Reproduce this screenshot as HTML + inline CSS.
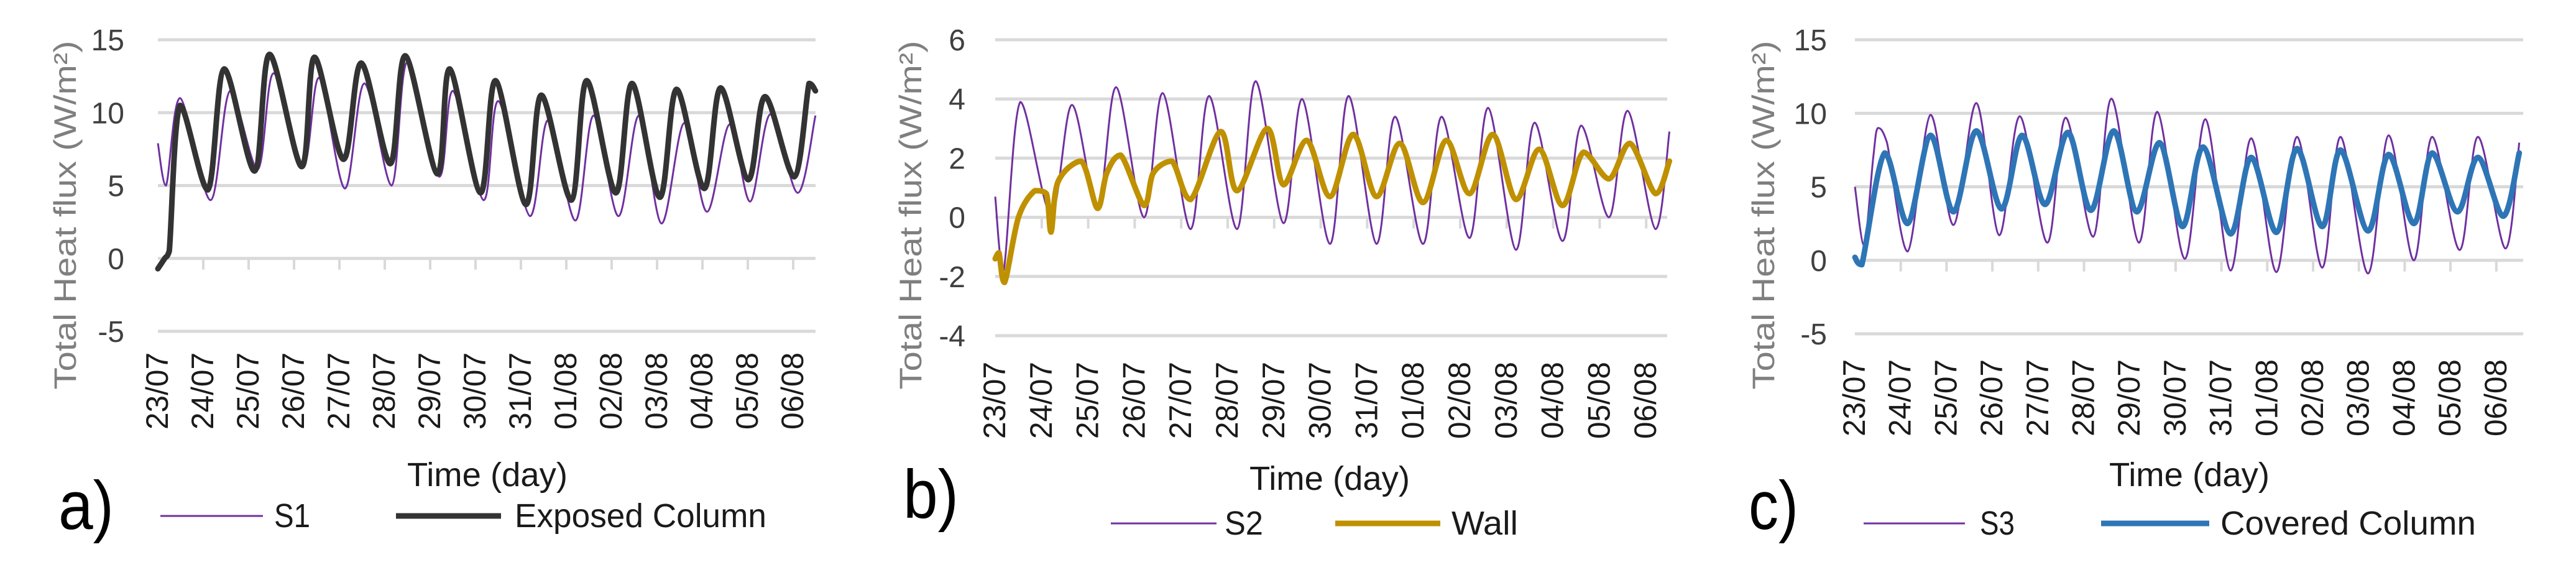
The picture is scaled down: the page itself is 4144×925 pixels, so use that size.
<!DOCTYPE html>
<html><head><meta charset="utf-8">
<style>
html,body{margin:0;padding:0;background:#fff;}
svg{display:block;}
text{font-family:"Liberation Sans",sans-serif;}
</style></head>
<body>
<svg id="fig" width="4144" height="925" viewBox="0 0 4144 925" xmlns="http://www.w3.org/2000/svg"></svg>
<script>
// ---- shared category labels ----
const dayLabels = ["23/07","24/07","25/07","26/07","27/07","28/07","29/07","30/07","31/07","01/08","02/08","03/08","04/08","05/08","06/08"];

// ---- panel a data ----
const aTicks = [15,10,5,0,-5];
const aS1Days = [0,0.18,0.49,1.16,1.59,2.2,2.55,3.2,3.55,4.12,4.55,5.15,5.5,6.2,6.5,7.18,7.5,8.2,8.6,9.2,9.6,10.15,10.6,11.1,11.6,12.1,12.6,13.05,13.5,14.1,14.49];
const aS1Vals = [7.9,5,11,4,11.5,6.1,12.7,6.3,12.4,4.8,12,5,13.5,5.6,11.5,4,10.8,2.9,9.5,2.6,9.8,2.9,9.8,2.4,9.3,3.2,9.2,3.9,9.9,4.5,9.8];
const aColDays = [0,0.15,0.25,0.49,1.1,1.46,2.13,2.46,3.17,3.45,4.09,4.48,5.12,5.45,6.16,6.43,7.11,7.44,8.11,8.45,9.11,9.45,10.09,10.45,11.06,11.43,12.04,12.4,13.01,13.38,14.02,14.35,14.49];
const aColVals = [-0.7,0,0.5,10.5,4.7,13,6,14,6.3,13.8,6.8,13.4,6.5,13.9,5.8,13,4.5,12.2,3.7,11.2,4,12.2,4.5,12,4.2,11.6,4.8,11.7,5.4,11.1,5.6,12,11.5];

// ---- panel b data ----
const bTicks = [6,4,2,0,-2,-4];
const bS2Days = [0,0.18,0.54,1.2,1.65,2.2,2.6,3.2,3.6,4.2,4.6,5.2,5.6,6.2,6.6,7.2,7.6,8.2,8.6,9.2,9.6,10.2,10.6,11.2,11.6,12.2,12.6,13.2,13.6,14.2,14.5];
const bS2Vals = [0.7,-1.8,3.9,0.1,3.8,0.3,4.4,0.0,4.2,-0.4,4.1,-0.4,4.6,-0.2,4.0,-0.9,4.1,-0.9,3.4,-0.9,3.4,-0.7,3.7,-1.1,3.2,-0.8,3.1,0.0,3.6,-0.4,2.9];
const bWallDays = [0,0.08,0.2,0.5,0.85,1.1,1.2,1.35,1.85,2.2,2.4,2.7,3.2,3.4,3.8,4.2,4.85,5.2,5.85,6.2,6.7,7.2,7.7,8.2,8.7,9.2,9.7,10.2,10.7,11.2,11.7,12.2,12.65,13.2,13.65,14.2,14.5];
const bWallVals = [-1.4,-1.2,-2.2,0,0.9,0.8,-0.5,1.2,1.9,0.3,1.5,2.1,0.4,1.5,1.9,0.6,2.9,0.9,3.0,1.1,2.6,0.7,2.8,0.7,2.5,0.5,2.6,0.8,2.8,0.6,2.3,0.4,2.2,1.3,2.5,0.8,1.9];

// ---- panel c data ----
const cTicks = [15,10,5,0,-5];
const cS3Days = [0,0.2,0.4,0.5,0.7,1.15,1.65,2.15,2.65,3.15,3.6,4.2,4.6,5.2,5.6,6.2,6.6,7.2,7.65,8.2,8.65,9.2,9.65,10.2,10.6,11.2,11.65,12.2,12.6,13.2,13.6,14.2,14.5];
const cS3Vals = [5,1,7,9,8,0.6,9.9,2.4,10.7,1.7,9.8,1.2,9.7,1.6,11,1.2,10.1,0.1,9.6,-0.7,8.3,-0.8,8.4,-0.5,8.4,-0.9,8.5,0,8.4,0.7,8.4,0.8,8];
const cCovDays = [0,0.15,0.65,1.15,1.65,2.15,2.65,3.2,3.65,4.15,4.65,5.15,5.65,6.15,6.65,7.15,7.6,8.2,8.65,9.2,9.65,10.2,10.6,11.2,11.65,12.2,12.6,13.15,13.6,14.15,14.5];
const cCovVals = [0.2,-0.3,7.3,2.5,8.5,3.3,8.8,3.5,8.5,3.8,8.7,3.4,8.8,3.3,8,2.3,7.7,1.8,7,1.9,7.6,2.3,7.5,2,7.2,2.5,7.3,3.3,7,3,7.3];

const NS = "http://www.w3.org/2000/svg";
const svg = document.getElementById('fig');
function mk(tag, attrs, parent){
  const e = document.createElementNS(NS, tag);
  for (const k in attrs) e.setAttribute(k, attrs[k]);
  (parent||svg).appendChild(e);
  return e;
}
function smoothPath(pts){
  let d = "M"+pts[0][0].toFixed(1)+","+pts[0][1].toFixed(1);
  for (let i=0;i<pts.length-1;i++){
    const p0=pts[Math.max(0,i-1)], p1=pts[i], p2=pts[i+1], p3=pts[Math.min(pts.length-1,i+2)];
    const t=0.16;
    let c1y=p1[1]+(p2[1]-p0[1])*t, c2y=p2[1]-(p3[1]-p1[1])*t;
    const lo=Math.min(p1[1],p2[1]), hi=Math.max(p1[1],p2[1]);
    c1y=Math.max(lo,Math.min(hi,c1y)); c2y=Math.max(lo,Math.min(hi,c2y));
    const c1x=p1[0]+(p2[0]-p0[0])*t, c2x=p2[0]-(p3[0]-p1[0])*t;
    d+=" C"+c1x.toFixed(1)+","+c1y.toFixed(1)+" "+c2x.toFixed(1)+","+c2y.toFixed(1)+" "+p2[0].toFixed(1)+","+p2[1].toFixed(1);
  }
  return d;
}

function panel(cfg){
  const g = mk('g',{});
  
  
  const yMax=cfg.ticks[0], yMin=cfg.ticks[cfg.ticks.length-1];
  const yS = v => cfg.yTop + (yMax-v)/(yMax-yMin)*(cfg.yBot-cfg.yTop);
  const xS = d => cfg.x0 + d*cfg.dx;
  // gridlines & y tick labels
  cfg.ticks.forEach(t=>{
    const l = mk('line',{x1:cfg.x0,x2:cfg.xEnd,y1:yS(t),y2:yS(t),stroke:'#d9d9d9','stroke-width':5},g);
    
    
    const tx = mk('text',{x:cfg.yLabX,y:yS(t)+17,'text-anchor':'end','font-size':48,fill:'#404040'},g);
    tx.textContent = t;
    
    
  });
  // tick marks on zero line
  for (let i=1;i<dayLabels.length;i++){
    const tm = mk('line',{x1:xS(i),x2:xS(i),y1:yS(0),y2:yS(0)+18,stroke:'#d9d9d9','stroke-width':4},g);
    
    
  }
  // x labels
  dayLabels.forEach((lab,i)=>{
    const x = xS(i)+16, y = cfg.labTop+124;
    const tx = mk('text',{x:x,y:y,'font-size':50,fill:'#1a1a1a',transform:'rotate(-90 '+x+' '+y+')',textLength:124,lengthAdjust:'spacingAndGlyphs'},g);
    tx.textContent = lab;
    
    
  });
  // y axis title
  const ty = mk('text',{x:cfg.titleX,y:cfg.titleY,'font-size':50,fill:'#7f7f7f','text-anchor':'middle',transform:'rotate(-90 '+cfg.titleX+' '+cfg.titleY+')',textLength:561,lengthAdjust:'spacingAndGlyphs'},g);
  ty.textContent = 'Total Heat flux (W/m²)';
  
  
  // x axis title
  const tt = mk('text',{x:cfg.timeX,y:cfg.timeY+17,'font-size':54,fill:'#1a1a1a',textLength:258,lengthAdjust:'spacingAndGlyphs'},g);
  tt.textContent = 'Time (day)';
  
  
  // panel letter
  const pl = mk('text',{x:cfg.letX,y:cfg.letY,'font-size':110,fill:'#000',textLength:cfg.letW,lengthAdjust:'spacingAndGlyphs'},g);
  pl.textContent = cfg.id+')';
  
  
  // series
  const s1 = mk('path',{d:smoothPath(cfg.thinD.map((d,i)=>[xS(d),yS(cfg.thinV[i])])),fill:'none',stroke:'#7030a0','stroke-width':3,'stroke-linejoin':'round'},g);
  
  
  const s2 = mk('path',{d:smoothPath(cfg.thickD.map((d,i)=>[xS(d),yS(cfg.thickV[i])])),fill:'none',stroke:cfg.thickColor,'stroke-width':9,'stroke-linejoin':'round','stroke-linecap':'round'},g);
  
  
  // legend
  const lg = mk('g',{},g);
  
  
  const l1 = mk('line',{x1:cfg.leg[0],x2:cfg.leg[1],y1:cfg.legY,y2:cfg.legY,stroke:'#7030a0','stroke-width':3},lg);
  
  
  const t1 = mk('text',{x:cfg.leg[2],y:cfg.legY+18,'font-size':54,fill:'#1a1a1a',textLength:cfg.leg[3]-cfg.leg[2],lengthAdjust:'spacingAndGlyphs'},lg);
  t1.textContent = cfg.thinName;
  
  
  const l2 = mk('line',{x1:cfg.leg[4],x2:cfg.leg[5],y1:cfg.legY,y2:cfg.legY,stroke:cfg.thickColor,'stroke-width':9},lg);
  
  
  const t2 = mk('text',{x:cfg.leg[6],y:cfg.legY+18,'font-size':54,fill:'#1a1a1a',textLength:cfg.leg[7]-cfg.leg[6],lengthAdjust:'spacingAndGlyphs'},lg);
  t2.textContent = cfg.thickName;
  
  
}

panel({id:'a',ticks:aTicks,yTop:64,yBot:533,x0:254,dx:73,xEnd:1312,yLabX:200,labTop:567,
  titleX:122,titleY:346,timeX:655,timeY:765,letX:94,letY:851,letW:89,
  thinD:aS1Days,thinV:aS1Vals,thickD:aColDays,thickV:aColVals,thickColor:'#333333',thinName:'S1',thickName:'Exposed Column',
  legY:830,leg:[258,423,441,499,637,806,828,1233]});
panel({id:'b',ticks:bTicks,yTop:64,yBot:540,x0:1601,dx:74.8,xEnd:2682,yLabX:1553,labTop:582,
  titleX:1482,titleY:346,timeX:2010,timeY:771,letX:1453,letY:833,letW:89,
  thinD:bS2Days,thinV:bS2Vals,thickD:bWallDays,thickV:bWallVals,thickColor:'#bf9000',thinName:'S2',thickName:'Wall',
  legY:842,leg:[1787,1957,1970,2032,2148,2317,2335,2442]});
panel({id:'c',ticks:cTicks,yTop:64,yBot:537,x0:2984,dx:73.7,xEnd:4059,yLabX:2939,labTop:578,
  titleX:2854,titleY:346,timeX:3393,timeY:765,letX:2813,letY:851,letW:80,
  thinD:cS3Days,thinV:cS3Vals,thickD:cCovDays,thickV:cCovVals,thickColor:'#2e75b6',thinName:'S3',thickName:'Covered Column',
  legY:842,leg:[2998,3161,3185,3241,3380,3554,3572,3983]});
</script>
</body></html>
